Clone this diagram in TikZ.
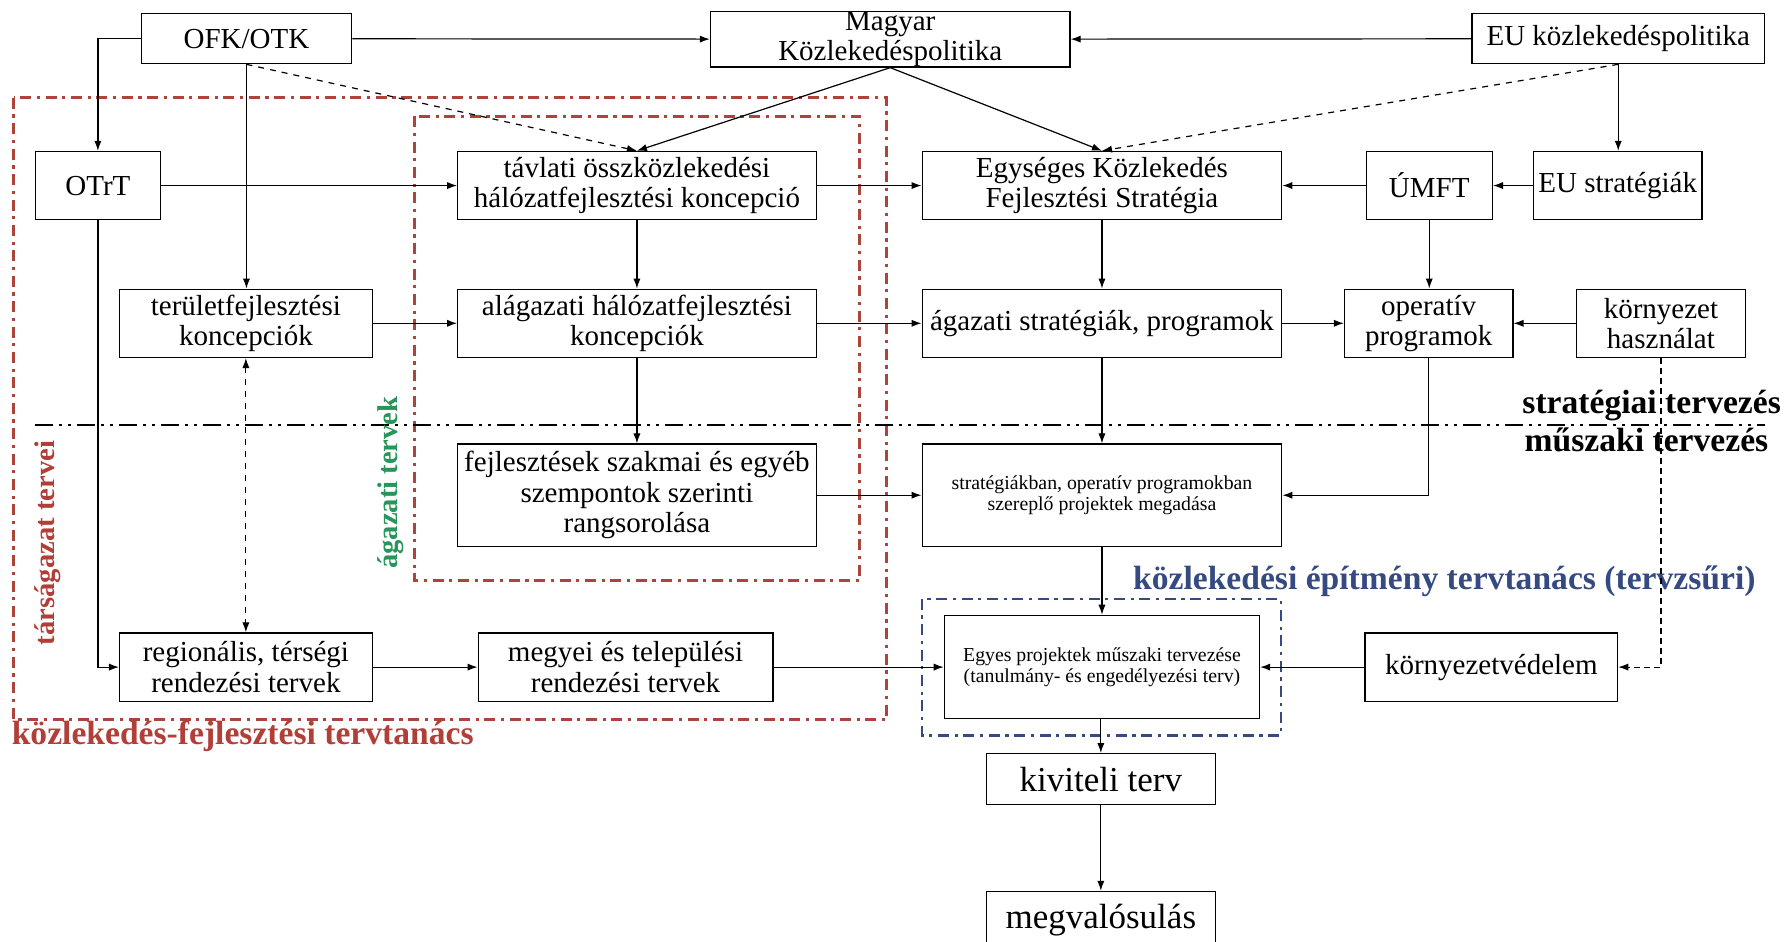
\documentclass[tikz,border=0pt]{standalone}
\usepackage{fontspec}
\setmainfont{Liberation Serif}
\usepackage{tikz}
\usetikzlibrary{arrows.meta,calc,positioning}
\definecolor{darkred}{RGB}{178,62,56}
\definecolor{framered}{RGB}{172,68,58}
\definecolor{darkblue}{RGB}{52,74,128}
\definecolor{darkgreen}{RGB}{40,150,90}

\begin{document}
\begin{tikzpicture}[x=0.02cm, y=-0.02cm,
    boxnode/.style={draw, line width=0.6pt, align=center, inner sep=0pt,
        font=\fontsize{14.5}{15.2}\selectfont},
    smalltext/.style={font=\fontsize{9.9}{10.8}\selectfont},
    bigtext/.style={font=\fontsize{17.5}{18}\selectfont},
    conn/.style={-{Latex[length=5pt,width=3.6pt]}, line width=0.6pt},
    tagtext/.style={font=\fontsize{16.8}{17}\selectfont\bfseries, inner sep=0pt},
    sidetext/.style={font=\fontsize{14.3}{15}\selectfont\bfseries, inner sep=0pt, rotate=90, anchor=base},
    groupframe/.style={line width=1.4pt, dash pattern=on 5.5pt off 2.8pt on 1.6pt off 2.8pt}]
                \useasboundingbox (0,0) rectangle (1568,827);
                \coordinate (lineL) at (31,373);
                \coordinate (lineR) at (1550,373);
                % boxes, top row
                \node[boxnode, minimum width=3.70cm, minimum height=0.88cm] (ofk) at (216.5,34) {OFK/OTK};
                \node[boxnode, minimum width=6.32cm, minimum height=0.88cm] (magyar) at (782,34.5) {Magyar\\Közlekedéspolitika};
                \node[boxnode, minimum width=5.14cm, minimum height=0.88cm] (eukp) at (1421.5,34) {EU közlekedéspolitika};
                % second row
                \node[boxnode, minimum width=2.20cm, minimum height=1.20cm] (otrt) at (86,163) {OTrT};
                \node[boxnode, minimum width=6.30cm, minimum height=1.20cm] (tavlati) at (559.5,163) {távlati összközlekedési\\hálózatfejlesztési koncepció};
                \node[boxnode, minimum width=6.32cm, minimum height=1.20cm] (egyseges) at (968,163) {Egységes Közlekedés\\Fejlesztési Stratégia};
                \node[boxnode, minimum width=2.22cm, minimum height=1.20cm] (umft) at (1255.5,163) {ÚMFT};
                \node[boxnode, minimum width=2.96cm, minimum height=1.20cm] (eustrat) at (1421,163) {EU stratégiák};
                % third row
                \node[boxnode, minimum width=4.44cm, minimum height=1.20cm] (terulet) at (216,284) {területfejlesztési\\koncepciók};
                \node[boxnode, minimum width=6.30cm, minimum height=1.20cm] (alagazati) at (559.5,284) {alágazati hálózatfejlesztési\\koncepciók};
                \node[boxnode, minimum width=6.32cm, minimum height=1.20cm] (agstrat) at (968,284) {ágazati stratégiák, programok};
                \node[boxnode, minimum width=2.96cm, minimum height=1.20cm] (operativ) at (1255,284) {operatív\\programok};
                \node[boxnode, minimum width=2.96cm, minimum height=1.20cm] (kornyhasz) at (1459,284) {környezet\\használat};
                % below the line
                \node[boxnode, minimum width=6.30cm, minimum height=1.80cm] (fejl) at (559.5,435) {fejlesztések szakmai és egyéb\\szempontok szerinti\\rangsorolása};
                \node[boxnode, smalltext, minimum width=6.32cm, minimum height=1.80cm] (strat) at (968,435) {stratégiákban, operatív programokban\\szereplő projektek megadása};
                \node[boxnode, minimum width=4.44cm, minimum height=1.20cm] (regional) at (216,586) {regionális, térségi\\rendezési tervek};
                \node[boxnode, minimum width=5.18cm, minimum height=1.20cm] (megyei) at (549.5,586) {megyei és települési\\rendezési tervek};
                \node[boxnode, smalltext, minimum width=5.54cm, minimum height=1.82cm] (egyes) at (968,586) {Egyes projektek műszaki tervezése\\(tanulmány- és engedélyezési terv)};
                \node[boxnode, minimum width=4.44cm, minimum height=1.20cm] (kornyved) at (1310,586) {környezetvédelem};
                \node[boxnode, bigtext, minimum width=4.02cm, minimum height=0.90cm] (kiviteli) at (967,684.5) {kiviteli terv};
                \node[boxnode, bigtext, minimum width=4.02cm, minimum height=1.00cm] (megval) at (967,808) {megvalósulás};
                % groups
                \draw[groupframe, draw=framered] (12,86) rectangle (779,632);
                \draw[groupframe, draw=framered] (364,102) rectangle (755,510);
                \draw[groupframe, draw=darkblue, line width=1.1pt] (810,526) rectangle (1125,646);
                \draw[line width=1.1pt, dash pattern=on 9pt off 3pt on 1.5pt off 3pt on 1.5pt off 3pt] (lineL) -- (lineR);
                \node[sidetext, text=darkred] (tarsag) at (48,477) {társágazat tervei};
                \node[sidetext, text=darkgreen] (agterv) at (349,424) {ágazati tervek};
                \node[tagtext, text=darkred, anchor=base west] (kftt) at (10,654) {közlekedés-fejlesztési tervtanács};
                \node[tagtext, text=darkblue, anchor=base west] (kett) at (995,518) {közlekedési építmény tervtanács (tervzsűri)};
                \node[tagtext, anchor=base west] (strtag) at (1337,363) {stratégiai tervezés};
                \node[tagtext, anchor=base west] (musztag) at (1339,397) {műszaki tervezés};
                % connectors
                \draw[conn] (ofk) -- (magyar);
                \draw[conn] (eukp) -- (magyar);
                \draw[conn] (ofk.west) -| (otrt.north);
                \draw[conn] (ofk.south) -- (ofk.south |- terulet.north);
                \draw[conn, dashed] (ofk.south) -- (tavlati.north);
                \draw[conn] (magyar.south) -- (tavlati.north);
                \draw[conn] (magyar.south) -- (egyseges.north);
                \draw[conn, dashed] (eukp.south) -- (egyseges.north);
                \draw[conn] (eukp.south) -- (eukp.south |- eustrat.north);
                \draw[conn] (otrt) -- (tavlati);
                \draw[conn] (tavlati) -- (egyseges);
                \draw[conn] (umft) -- (egyseges);
                \draw[conn] (eustrat) -- (umft);
                \draw[conn] (tavlati) -- (alagazati);
                \draw[conn] (egyseges) -- (agstrat);
                \draw[conn] (umft.south) -- (umft.south |- operativ.north);
                \draw[conn] (terulet) -- (alagazati);
                \draw[conn] (alagazati) -- (agstrat);
                \draw[conn] (agstrat) -- (operativ);
                \draw[conn] (kornyhasz) -- (operativ);
                \draw[conn] (alagazati) -- (fejl);
                \draw[conn] (agstrat) -- (strat);
                \draw[conn] (operativ.south) |- (strat.east);
                \draw[conn] (fejl) -- (strat);
                \draw[conn, dashed, {Latex[length=5pt,width=3.6pt]}-{Latex[length=5pt,width=3.6pt]}] (terulet) -- (regional);
                \draw[conn] (otrt.south) |- (regional.west);
                \draw[conn] (regional) -- (megyei);
                \draw[conn] (megyei) -- (egyes);
                \draw[conn] (strat) -- (egyes);
                \draw[conn] (kornyved) -- (egyes);
                \draw[conn, dash pattern=on 3pt off 2pt] (kornyhasz.south) |- (kornyved.east);
                \draw[conn] (egyes.south -| kiviteli.north) -- (kiviteli.north);
                \draw[conn] (kiviteli) -- (megval);
\end{tikzpicture}
\end{document}
